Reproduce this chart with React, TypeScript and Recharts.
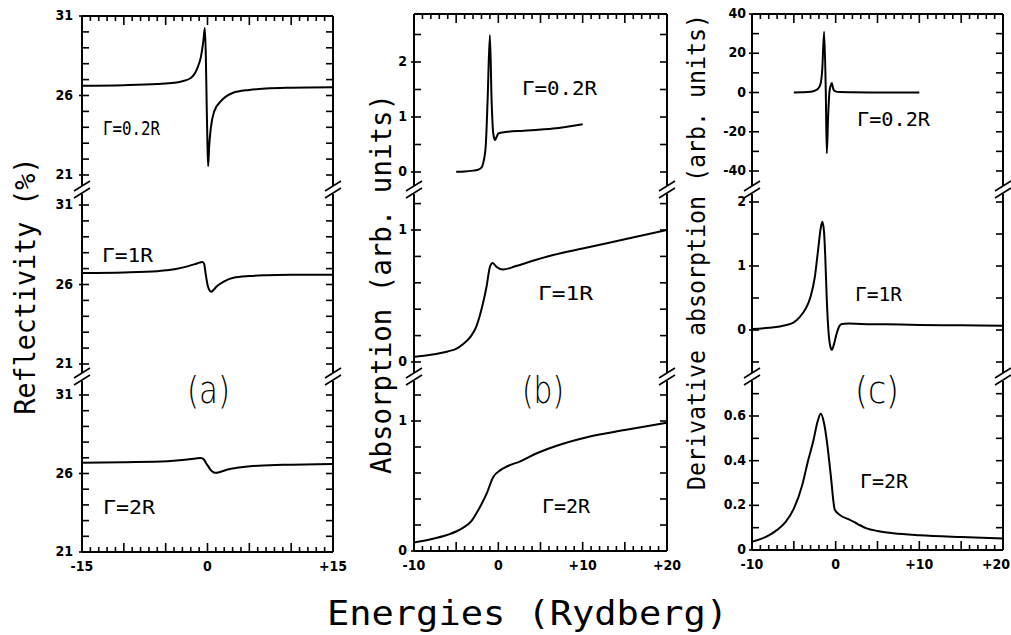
import React from "react";
import { LineChart, Line, XAxis, YAxis, ReferenceLine } from "recharts";

const W = 1011;
const H = 635;
const TITLE_FONT = "'DejaVu Sans Mono', 'Liberation Mono', monospace";
const TICK_FONT = "'Liberation Sans Narrow', 'DejaVu Sans Condensed', 'Liberation Sans', sans-serif";

// (a) reflectivity (%)
const reflE02 = [-15, -10, -6, -4, -3, -2, -1.2, -0.8, -0.5, -0.32, -0.2, -0.1, 0, 0.08, 0.2, 0.4, 0.8, 1.6, 3, 5, 7, 10, 15];
const reflV02 = [26.62, 26.65, 26.72, 26.8, 26.9, 27.1, 27.74, 28.4, 29.4, 30.25, 28.5, 25.5, 22.8, 21.55, 22.8, 23.96, 25.0, 25.64, 26.16, 26.35, 26.44, 26.49, 26.52];
const reflE1 = [-15, -10, -6, -4.8, -3.5, -2.4, -1.5, -0.9, -0.6, -0.4, -0.24, 0.04, 0.25, 0.44, 0.7, 1.15, 2, 3.1, 5, 7, 10, 15];
const reflV1 = [26.73, 26.76, 26.83, 26.9, 27.0, 27.14, 27.28, 27.38, 27.42, 27.3, 26.75, 25.9, 25.62, 25.54, 25.65, 25.9, 26.2, 26.42, 26.53, 26.58, 26.61, 26.62];
const reflE2 = [-15, -10, -4.8, -2.4, -1.4, -0.8, -0.4, -0.2, 0.1, 0.4, 0.7, 1.0, 1.5, 2.4, 3.5, 5.1, 9.1, 15];
const reflV2 = [26.68, 26.72, 26.78, 26.89, 26.96, 26.99, 26.88, 26.68, 26.45, 26.21, 26.08, 26.04, 26.1, 26.25, 26.36, 26.46, 26.55, 26.61];

// (b) absorption (arb. units)
const absE02 = [-5, -4, -3, -2.5, -2, -1.8, -1.5, -1.27, -1.0, -0.8, -0.6, -0.4, -0.2, 0, 0.5, 1, 3, 6.5, 10];
const absV02 = [0.005, 0.01, 0.025, 0.036, 0.08, 0.16, 0.46, 1.31, 2.49, 1.31, 0.7, 0.58, 0.64, 0.7, 0.72, 0.73, 0.75, 0.79, 0.87];
const absE1 = [-10, -8, -6, -5, -4.2, -3.2, -2.6, -2.2, -1.8, -1.4, -1.0, -0.68, -0.2, 0.55, 2, 4, 6.5, 10, 15, 20];
const absV1 = [0.04, 0.055, 0.08, 0.1, 0.135, 0.2, 0.27, 0.35, 0.45, 0.57, 0.72, 0.75, 0.72, 0.7, 0.725, 0.765, 0.81, 0.86, 0.93, 1.0];
const absE2 = [-10, -8, -6, -5, -4.2, -3.2, -2.6, -2, -1.4, -0.6, 0.2, 1, 2.6, 4.5, 6.5, 10.5, 15, 20];
const absV2 = [0.065, 0.09, 0.125, 0.15, 0.178, 0.23, 0.29, 0.36, 0.44, 0.57, 0.62, 0.65, 0.69, 0.75, 0.8, 0.875, 0.93, 0.987];

// (c) derivative absorption (arb. units)
const derE02 = [-5, -4, -3, -2.5, -2.1, -1.8, -1.6, -1.38, -1.18, -1.06, -0.9, -0.75, -0.6, -0.46, -0.3, -0.1, 0.5, 2, 5, 10];
const derV02 = [0, 0.1, 0.4, 0.9, 2, 4.5, 12, 31, 0, -31, -12, 0, 3.5, 4.9, 2, 0.7, 0.2, 0.1, 0, 0];
const derE1 = [-10, -8, -6, -5, -4.3, -3.6, -3.0, -2.5, -2.1, -1.8, -1.6, -1.4, -1.26, -1.06, -0.87, -0.65, -0.46, -0.2, 0.13, 0.4, 0.73, 1.5, 3, 6, 10, 15, 20];
const derV1 = [0.015, 0.035, 0.075, 0.12, 0.2, 0.33, 0.52, 0.82, 1.25, 1.58, 1.69, 1.55, 1.2, 0.47, 0, -0.25, -0.31, -0.22, -0.05, 0.05, 0.094, 0.1, 0.094, 0.088, 0.08, 0.073, 0.067];
const derE2 = [-10, -8, -7, -6, -5, -4, -3.3, -2.66, -2.2, -1.78, -1.4, -1.06, -0.6, -0.1, 0.5, 1.7, 2.7, 3.7, 5, 6.9, 10, 15, 20];
const derV2 = [0.037, 0.065, 0.09, 0.125, 0.185, 0.29, 0.4, 0.49, 0.57, 0.61, 0.57, 0.49, 0.34, 0.18, 0.157, 0.135, 0.115, 0.097, 0.085, 0.075, 0.066, 0.058, 0.052];

// ticks
const reflTicks = [21, 22, 23, 24, 25, 26, 27, 28, 29, 30, 31];
const reflLabels = [21, 26, 31];
const absTopTicks = [0, 0.5, 1, 1.5, 2, 2.5];
const absTopLabels = [0, 1, 2];
const absTicks = [0, 0.2, 0.4, 0.6, 0.8, 1, 1.2];
const absLabels = [0, 1];
const derTopTicks = [-40, -30, -20, -10, 0, 10, 20, 30, 40];
const derTopLabels = [-40, -20, 0, 20, 40];
const derMidTicks = [-0.5, 0, 0.5, 1, 1.5, 2];
const derMidLabels = [0, 1, 2];
const derBotTicks = [0, 0.1, 0.2, 0.3, 0.4, 0.5, 0.6, 0.7];
const derBotLabels = [0, 0.2, 0.4, 0.6];

const xTicksA = [-15, -14, -13, -12, -11, -10, -9, -8, -7, -6, -5, -4, -3, -2, -1, 0, 1, 2, 3, 4, 5, 6, 7, 8, 9, 10, 11, 12, 13, 14, 15];
const xLabelsA = [-15, 0, 15];
const xTicksBC = [-10, -9, -8, -7, -6, -5, -4, -3, -2, -1, 0, 1, 2, 3, 4, 5, 6, 7, 8, 9, 10, 11, 12, 13, 14, 15, 16, 17, 18, 19, 20];
const xLabelsBC = [-10, 0, 10, 20];

const gammaLabels = ["Γ=0.2R", "Γ=1R", "Γ=2R"];

type Band = { ticks: number[]; labels: number[]; cal: number[]; e: number[]; v: number[] };
type Panel = {
  left: number; right: number; top: number; bottom: number;
  xDomain: [number, number]; xTicks: number[]; xLabels: number[]; gap: number; bands: Band[];
};

const panels: Panel[] = [
  {
    left: 82, right: 333, top: 16, bottom: 552, xDomain: [-15, 15], xTicks: xTicksA, xLabels: xLabelsA, gap: 9,
    bands: [
      { ticks: reflTicks, labels: reflLabels, cal: [31, 16, 21, 175], e: reflE02, v: reflV02 },
      { ticks: reflTicks, labels: reflLabels, cal: [31, 205, 21, 364], e: reflE1, v: reflV1 },
      { ticks: reflTicks, labels: reflLabels, cal: [31, 395, 21, 552], e: reflE2, v: reflV2 },
    ],
  },
  {
    left: 414, right: 667, top: 14, bottom: 551, xDomain: [-10, 20], xTicks: xTicksBC, xLabels: xLabelsBC, gap: 7,
    bands: [
      { ticks: absTopTicks, labels: absTopLabels, cal: [2, 62, 0, 172], e: absE02, v: absV02 },
      { ticks: absTicks, labels: absLabels, cal: [1, 230, 0, 362], e: absE1, v: absV1 },
      { ticks: absTicks, labels: absLabels, cal: [1, 421, 0, 551], e: absE2, v: absV2 },
    ],
  },
  {
    left: 752, right: 1003, top: 14, bottom: 550, xDomain: [-10, 20], xTicks: xTicksBC, xLabels: xLabelsBC, gap: 6,
    bands: [
      { ticks: derTopTicks, labels: derTopLabels, cal: [40, 14, -40, 171], e: derE02, v: derV02 },
      { ticks: derMidTicks, labels: derMidLabels, cal: [2, 202, 0, 330], e: derE1, v: derV1 },
      { ticks: derBotTicks, labels: derBotLabels, cal: [0.6, 416, 0, 550], e: derE2, v: derV2 },
    ],
  },
];

const zip = (e: number[], v: number[]) => e.map((x, i) => ({ e: x, v: v[i] }));
const has = (list: number[], v: number) => list.some((l) => Math.abs(l - v) < 1e-9);

// extend the band calibration to the full plot height
const bandDomain = (cal: number[], top: number, bottom: number): [number, number] => {
  const [v1, p1, v2, p2] = cal;
  const k = (v1 - v2) / (p2 - p1);
  return [v1 - (bottom - p1) * k, v1 + (p1 - top) * k];
};

const YW = 20; // width of each (stacked) y axis
const XH = 10; // height of the top / bottom x axes
const AXIS = { stroke: "#000", strokeWidth: 2 };

const YTick = (props: any) => {
  const { y, payload, labels, p } = props;
  const v = payload.value;
  const major = has(labels, v);
  const x = p.left;
  const r = p.right;
  return (
    <g>
      <line x1={x - (major ? 3 : 0)} x2={x + 7} y1={y} y2={y} stroke="#000" strokeWidth={1.6} />
      <line x1={r - 7} x2={r} y1={y} y2={y} stroke="#000" strokeWidth={1.6} />
      {major && (
        <text x={x - p.gap} y={y - 1} dy="0.36em" textAnchor="end" fontFamily={TICK_FONT} fontWeight="bold" fontSize={14} fill="#000">
          {String(v)}
        </text>
      )}
    </g>
  );
};

const XTick = (props: any) => {
  const { x, payload, labels, side, p } = props;
  const v = payload.value;
  const len = v % 5 === 0 ? 9 : 5;
  const y = side === "top" ? p.top : p.bottom;
  const dir = side === "top" ? 1 : -1;
  return (
    <g>
      <line x1={x} x2={x} y1={y} y2={y + dir * len} stroke="#000" strokeWidth={1.6} />
      {side === "bottom" && has(labels, v) && (
        <text x={Math.min(x, W - 15)} y={y + 19} textAnchor="middle" fontFamily={TICK_FONT} fontWeight="bold" fontSize={14} fill="#000">
          {v > 0 ? `+${v}` : String(v)}
        </text>
      )}
    </g>
  );
};

const PanelChart = ({ p }: { p: Panel }) => (
  <div style={{ position: "absolute", left: 0, top: 0 }}>
    <LineChart
      width={W}
      height={H}
      margin={{ top: p.top - XH, bottom: H - p.bottom - XH, left: p.left - 3 * YW, right: W - p.right }}
    >
      <XAxis
        xAxisId="top" orientation="top" type="number" dataKey="e" domain={p.xDomain} ticks={p.xTicks}
        interval={0} height={XH} tickSize={0} tickMargin={0} tickLine={false} axisLine={AXIS} allowDataOverflow
        tick={(t: any) => <XTick {...t} side="top" labels={[]} p={p} />}
      />
      <XAxis
        xAxisId="bottom" orientation="bottom" type="number" dataKey="e" domain={p.xDomain} ticks={p.xTicks}
        interval={0} height={XH} tickSize={0} tickMargin={0} tickLine={false} axisLine={AXIS} allowDataOverflow
        tick={(t: any) => <XTick {...t} side="bottom" labels={p.xLabels} p={p} />}
      />
      {p.bands.map((b, i) => (
        <YAxis
          key={`y${i}`} yAxisId={i} orientation="left" type="number" domain={bandDomain(b.cal, p.top, p.bottom)} ticks={b.ticks}
          interval={0} width={YW} tickSize={0} tickMargin={0} tickLine={false} allowDataOverflow
          axisLine={false}
          tick={(t: any) => <YTick {...t} labels={b.labels} p={p} />}
        />
      ))}
      {p.bands.map((b, i) => (
        <Line
          key={`l${i}`} xAxisId={i === 0 ? "top" : "bottom"} yAxisId={i} data={zip(b.e, b.v)} dataKey="v"
          type="monotone" dot={false} stroke="#000" strokeWidth={2} isAnimationActive={false}
        />
      ))}
      <ReferenceLine xAxisId="bottom" yAxisId={0} x={p.xDomain[0]} stroke="#000" strokeWidth={2} />
      <ReferenceLine xAxisId="bottom" yAxisId={0} x={p.xDomain[1]} stroke="#000" strokeWidth={2} />
    </LineChart>
  </div>
);

// break marks on the frame
const breakXs = [82, 333, 414, 667, 752, 1003];
const breakYs = [190, 377];

const Breaks = () => (
  <>
    {breakXs.flatMap((cx) =>
      breakYs.map((cy) => (
        <g key={`${cx}-${cy}`}>
          <rect x={cx - 2.5} y={cy - 4} width={5} height={8} fill="#fff" />
          <line x1={cx - 8} y1={cy + 1} x2={cx + 8} y2={cy - 9} stroke="#000" strokeWidth={1.6} />
          <line x1={cx - 8} y1={cy + 8} x2={cx + 8} y2={cy - 2} stroke="#000" strokeWidth={1.6} />
        </g>
      ))
    )}
  </>
);

const gammaPos = [
  [103, 135, 57], [102, 262, 51], [103, 514, 52],
  [522, 95, 75], [538, 300, 55], [542, 513, 48],
  [857, 126, 73], [855, 301, 47], [860, 488, 48],
];

const T = { fontFamily: TITLE_FONT, fill: "#000", lengthAdjust: "spacingAndGlyphs" as const };
const P = { fontFamily: "'DejaVu Sans', sans-serif", fill: "#000", lengthAdjust: "spacingAndGlyphs" as const };

export default function App() {
  return (
    <div style={{ position: "absolute", left: 0, top: 0, width: W, height: H, background: "#fff" }}>
      {panels.map((p, i) => (
        <PanelChart key={i} p={p} />
      ))}
      <svg width={W} height={H} style={{ position: "absolute", left: 0, top: 0, pointerEvents: "none" }}>
        <Breaks />
        {gammaPos.map(([x, y, w], i) => (
          <text key={i} x={x} y={y} fontSize={20} textLength={w} {...T}>
            {gammaLabels[i % 3]}
          </text>
        ))}
        <text x={187} y={403} fontSize={38} fontWeight={300} textLength={43} {...P}>(a)</text>
        <text x={522} y={403} fontSize={38} fontWeight={300} textLength={42} {...P}>(b)</text>
        <text x={855} y={403} fontSize={38} fontWeight={300} textLength={44} {...P}>(c)</text>
        <text transform="translate(35,286) rotate(-90)" x={0} y={0} textAnchor="middle" fontSize={28} textLength={257} {...T}>
          Reflectivity (%)
        </text>
        <text transform="translate(391,284) rotate(-90)" x={0} y={0} textAnchor="middle" fontSize={28} textLength={380} {...T}>
          Absorption (arb. units)
        </text>
        <text transform="translate(705,252) rotate(-90)" x={0} y={0} textAnchor="middle" fontSize={25} textLength={476} {...T}>
          Derivative absorption (arb. units)
        </text>
        <text x={327} y={625} fontSize={34} textLength={401} {...T}>
          Energies  (Rydberg)
        </text>
      </svg>
    </div>
  );
}
